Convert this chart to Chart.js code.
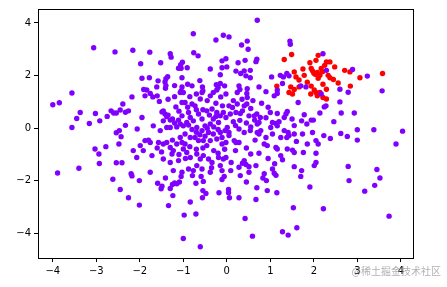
<!DOCTYPE html>
<html>
<head>
<meta charset="utf-8">
<script src="https://cdn.jsdelivr.net/npm/chart.js@4/dist/chart.umd.min.js"></script>
<style>
  html, body { margin: 0; padding: 0; background: #fff; }
  canvas { display: block; }
</style>
</head>
<body>
<canvas id="chart" width="447" height="287"></canvas>
<script>
// tick values
const xTicks = [-4, -3, -2, -1, 0, 1, 2, 3, 4];
const yTicks = [-4, -2, 0, 2, 4];

// red cluster points [x, y]
const redPts = [
    [1.32, 2.61], [1.49, 2.80], [1.55, 2.14], [1.59, 1.95], [1.66, 1.83], [1.78, 2.01],
    [1.91, 2.49], [1.94, 2.27], [2.05, 2.58], [2.00, 2.10], [2.03, 2.05], [1.97, 2.18],
    [2.08, 2.12], [1.15, 1.60], [1.47, 1.57], [1.55, 1.47], [1.66, 1.57], [1.94, 1.60],
    [2.01, 1.45], [2.29, 2.52], [2.37, 2.52], [2.25, 2.39], [2.10, 2.77], [2.17, 2.27],
    [2.48, 2.33], [2.71, 2.20], [2.83, 2.14], [2.33, 2.01], [2.37, 1.92], [2.14, 2.01],
    [3.06, 1.92], [3.58, 2.08], [2.56, 1.72], [2.21, 1.67], [2.84, 1.60], [2.29, 1.48],
    [1.43, 1.36], [1.51, 1.30], [1.93, 1.30], [2.05, 1.36], [2.08, 1.23], [2.14, 1.36],
    [2.21, 1.17], [2.29, 1.11], [2.10, 1.90], [2.20, 2.15], [1.85, 1.75], [2.45, 1.85],
    [1.75, 2.25]
];

// purple points [x, y]
const purplePts = [
    [-3.06, 3.06], [-2.57, 2.90], [-2.16, 2.96], [-3.56, 1.34],
    [-0.77, 3.59], [-0.25, 3.35], [-0.08, 3.53], [-1.77, 2.89], [-1.30, 2.83], [-1.28, 2.70],
    [-0.76, 2.87], [-0.66, 2.75], [-1.98, 2.45], [-1.52, 2.49], [-1.02, 2.51], [-1.06, 2.41],
    [-1.11, 2.28], [-1.05, 2.28], [-0.91, 2.30], [-0.11, 2.56], [-0.02, 2.64], [-0.38, 2.25],
    [-0.11, 2.30], [-0.15, 2.03], [-1.95, 1.90], [-1.78, 1.92], [-1.58, 1.80], [-1.40, 1.88],
    [-1.36, 1.96], [-1.42, 1.76], [-1.03, 1.92], [-0.62, 1.81], [-0.15, 1.70], [-0.05, 1.61],
    [-1.91, 1.47], [-1.84, 1.45], [-1.61, 1.57], [-1.40, 1.62], [-1.41, 1.52], [-1.20, 1.62],
    [-1.03, 1.57], [-0.90, 1.67], [-0.80, 1.61], [-0.56, 1.57], [-0.55, 1.42], [-1.05, 1.42],
    [-0.24, 1.65], [-0.20, 1.55], [-0.23, 1.45],
    [0.70, 4.10], [0.05, 3.47], [0.34, 3.16], [0.47, 3.31], [0.49, 3.00], [0.00, 2.33],
    [0.26, 2.49], [0.42, 2.58], [0.67, 2.53], [0.69, 2.62], [1.45, 3.31], [1.46, 3.19],
    [0.21, 2.17], [0.32, 2.08], [0.40, 2.18], [0.54, 2.20], [0.44, 1.99], [0.54, 1.92],
    [0.28, 1.61], [0.30, 1.47], [0.47, 1.50], [0.74, 1.57], [0.90, 1.39], [1.03, 1.95],
    [1.23, 2.01], [1.30, 1.95], [1.38, 2.08], [1.43, 1.99], [1.28, 1.70], [1.70, 1.61],
    [1.82, 1.57], [1.16, 1.45],
    [2.21, 2.83], [2.29, 2.20], [2.89, 2.23], [3.23, 1.98], [2.60, 1.48], [2.79, 1.37],
    [3.57, 1.42], [2.17, 1.30],
    [-4.00, 0.89], [-3.85, 0.97], [-3.37, 0.60], [-3.45, 0.37], [-3.56, 0.03], [-3.16, 0.18],
    [-3.02, 0.56], [-2.92, 0.28], [-2.75, 0.45], [-2.66, 0.66], [-2.60, 0.58], [-2.54, 0.58],
    [-2.45, 0.69], [-2.39, 0.92], [-2.33, 0.61], [-2.26, 0.66], [-2.18, 1.19], [-2.33, 0.11],
    [-2.47, -0.09], [-2.54, -0.17], [-2.43, -0.32], [-2.48, -0.60], [-2.78, -0.70], [-3.03, -0.79],
    [-2.94, -0.98], [-2.93, -1.34], [-2.54, -1.31], [-2.41, -1.31], [-3.40, -1.52], [-3.89, -1.70],
    [-2.20, -1.73],
    [-2.62, -1.94], [-2.45, -2.33], [-2.26, -2.64], [-2.18, -1.81],
    [-2.01, -1.99], [-2.01, -2.92], [-1.59, -2.09], [-1.49, -2.20], [-1.51, -2.30], [-1.41, -1.89],
    [-1.30, -2.29], [-1.25, -2.14], [-1.20, -2.08], [-1.15, -2.11], [-1.09, -2.04], [-1.24, -2.56],
    [-1.34, -2.94], [-1.05, -1.83], [-0.79, -1.80], [-0.59, -1.83], [-0.71, -2.09], [-0.54, -2.02],
    [-0.55, -2.37], [-0.48, -2.48], [-0.56, -2.64], [-0.11, -1.95], [-0.18, -2.45], [-0.84, -2.80],
    [-0.71, -3.26], [-0.98, -3.30], [-1.00, -4.19], [-0.61, -4.50],
    [-0.06, -1.83], [0.31, -1.80], [0.45, -2.04], [0.83, -1.89], [0.91, -1.99], [1.13, -1.79],
    [1.70, -1.83], [0.04, -2.33], [0.04, -2.45], [0.06, -2.64], [0.28, -2.64], [0.69, -2.26],
    [0.67, -2.71], [0.93, -2.37], [1.15, -2.45], [1.91, -2.23], [1.53, -3.02], [1.61, -3.78],
    [1.28, -3.93], [1.41, -4.06], [0.42, -3.43], [0.59, -4.10],
    [2.81, -1.99], [3.52, -1.89], [3.40, -2.17], [3.17, -2.39], [2.22, -3.06], [3.73, -3.34],
    [2.24, 0.81], [2.28, 0.85], [2.60, 1.00], [2.14, 0.58], [2.63, 0.58], [2.93, 0.58],
    [2.46, 0.25], [2.23, -0.28], [2.38, -0.39], [2.62, -0.20], [2.77, -0.31], [3.00, -0.06],
    [3.00, -0.45], [3.38, -0.06], [4.04, -0.11], [3.89, -0.60], [2.10, -0.60], [2.79, -1.45],
    [3.45, -1.57],
    [-0.02, 1.30], [0.24, 1.36], [0.46, 1.32], [1.09, 1.23], [1.16, 1.32], [0.05, 0.85],
    [0.13, 0.79], [0.24, 0.92], [0.40, 0.85], [0.46, 0.92], [0.47, 1.17], [0.31, 0.56],
    [0.21, 0.60], [0.08, 0.54], [-0.02, 0.41], [0.36, 0.66], [0.51, 0.47], [0.63, 0.47],
    [0.69, 0.54], [0.64, 0.31], [0.77, 0.41], [0.74, 0.22], [0.70, 0.16], [1.00, 0.60],
    [1.16, 0.56], [1.32, 0.41], [1.36, 0.54], [1.39, 0.64], [1.64, 0.98], [1.78, 0.51],
    [1.72, 0.28], [1.84, 0.16], [1.94, 0.31], [1.99, 0.31], [1.05, 0.22], [1.13, 0.18],
    [1.16, 0.09], [1.01, 0.03], [0.01, 0.03], [0.05, -0.16], [0.05, -0.28], [0.28, -0.03],
    [0.40, -0.16], [0.54, -0.09], [0.70, -0.16], [0.74, -0.22], [0.78, -0.09], [1.05, -0.22],
    [1.24, -0.35], [1.32, -0.09], [1.41, -0.16], [1.38, -0.35], [1.43, -0.28], [1.55, -0.22],
    [1.74, -0.22], [1.97, -0.16], [2.05, -0.47], [0.21, -0.54], [0.28, -0.54], [0.17, -0.47],
    [-0.02, -0.54], [0.86, -0.60], [0.93, -0.66], [1.13, -0.73], [1.16, -0.79], [1.39, -0.79],
    [1.51, -0.83], [1.55, -0.92], [1.76, -0.92], [2.05, -0.95], [-0.02, -1.11], [0.55, -0.98],
    [0.74, -0.95], [1.24, -1.04], [1.28, -1.20], [1.55, -1.46], [1.72, -1.61], [2.05, -1.30],
    [2.01, -1.42], [0.40, -1.23], [0.36, -1.33], [0.44, -1.38], [0.28, -1.48], [0.51, -1.46],
    [0.67, -1.42], [0.09, -1.61], [0.51, -1.67], [1.05, -1.55], [1.09, -1.71], [0.86, -1.73],
    [-1.88, 1.23], [-1.76, 1.32], [-1.70, 1.19], [-1.60, 1.23], [-1.55, 1.02], [-1.07, 1.36],
    [-1.00, 1.36], [-0.61, 1.11], [-0.57, 1.36], [-0.38, 1.23], [-0.31, 1.36], [-0.14, 1.19],
    [-1.95, 0.41], [-2.06, -0.03], [-1.69, 0.09], [-1.53, -0.09], [-1.46, 0.66], [-1.42, 0.54],
    [-1.38, 0.44], [-1.30, 0.31], [-1.46, 0.28], [-1.17, 0.81], [-1.03, 0.98], [-0.96, 0.98],
    [-0.80, 0.92], [-0.73, 0.85], [-1.03, 0.47], [-0.88, 0.60], [-0.84, 0.41], [-0.77, 0.28],
    [-1.11, 0.31], [-1.07, 0.16], [-1.00, 0.09], [-1.30, 0.03], [-1.38, 0.03], [-0.65, 0.54],
    [-0.57, 0.35], [-0.46, 0.66], [-0.34, 0.73], [-0.23, 0.60], [-0.15, 0.47], [-0.08, 0.60],
    [-0.31, 0.35], [-0.19, 0.22], [-0.38, 0.16], [-0.50, 0.09], [-0.69, 0.03], [-0.57, -0.09],
    [-0.42, -0.16], [-0.31, -0.22], [-0.15, -0.16], [-0.04, -0.09], [-0.11, -0.35], [-0.23, -0.41],
    [-0.96, -0.22], [-0.84, -0.35], [-1.07, -0.35], [-1.03, -0.54], [-0.96, -0.60], [-0.73, -0.35],
    [-0.65, -0.47], [-0.54, -0.47], [-0.38, -0.47], [-0.46, -0.66], [-0.11, -0.60], [-1.88, -0.47],
    [-1.80, -0.45], [-1.76, -0.54], [-1.57, -0.54], [-1.46, -0.60], [-1.38, -0.54], [-1.30, -0.73],
    [-1.23, -0.85], [-1.26, -0.98], [-1.99, -0.66], [-2.15, -0.85], [-1.92, -0.85], [-2.07, -1.11],
    [-1.72, -1.04], [-1.46, -1.17], [-1.30, -1.30], [-1.11, -1.23], [-1.00, -0.79], [-0.92, -0.92],
    [-0.84, -1.11], [-0.69, -0.98], [-0.61, -1.17], [-0.54, -1.04], [-0.42, -1.17], [-0.34, -1.30],
    [-0.19, -1.11], [-0.08, -1.17], [-0.15, -1.42], [-0.69, -1.42], [-0.57, -1.55], [-0.77, -1.61],
    [-0.88, -1.55], [-1.23, -1.61], [-1.03, -1.67], [-1.76, -1.67], [-0.38, -1.67], [-0.11, -1.61],
    // dense core, overlapping marks
    [-1.49, 0.62], [-1.35, 0.50], [-1.25, 0.35], [-1.20, 0.20], [-1.15, 0.05], [-0.92, 0.22],
    [-0.88, 0.12], [-0.80, -0.05], [-0.70, -0.15], [-0.62, -0.25], [-0.50, -0.30], [-0.45, 0.00],
    [-0.30, 0.05], [-0.20, -0.05], [-0.25, 0.45], [-0.40, 0.50], [-0.55, 0.70], [-0.70, 0.70],
    [-0.90, 0.80], [-1.10, 0.65], [-1.25, -0.45], [-1.15, -0.60], [-0.85, -0.70], [-0.70, -0.80],
    [-0.55, -0.75], [-0.30, -0.85], [-0.20, -0.95], [-0.05, -0.80], [-1.60, -0.75], [-1.50, -0.90],
    [-1.10, -1.00], [-0.95, -1.15], [-0.35, -1.50], [-1.35, 1.10], [-1.20, 1.20], [-0.85, 1.20],
    [-0.70, 1.30], [-0.45, 1.05], [-0.25, 0.95], [-0.10, 0.85],
    [0.15, 1.05], [0.35, 1.10], [0.60, 1.05], [0.80, 0.95], [0.95, 0.80], [0.55, 0.75],
    [0.15, 0.25], [0.30, 0.30], [0.45, 0.20], [0.20, 0.10], [0.55, 0.05], [0.90, 0.40],
    [1.20, 0.25], [1.50, 0.35], [1.55, 0.10], [0.90, -0.35], [0.65, -0.45], [0.45, -0.75],
    [0.20, -0.85], [0.10, -1.30], [0.95, -1.15], [1.10, -1.35], [1.60, -0.50], [1.85, -0.60]
];

const purple = "#8000ff";
const red = "#ff0000";

function toXY(pts) {
    return pts.map(p => ({ x: p[0], y: p[1] }));
}

function fmt(v) {
    return v < 0 ? "\u2212" + Math.abs(v) : String(v);
}

// 枠線(上・右も含む)と透かし文字
const framePlugin = {
    id: "frame",
    afterDraw(chart) {
        const { ctx, chartArea: a } = chart;
        ctx.save();
        ctx.strokeStyle = "#000";
        ctx.lineWidth = 1;
        ctx.strokeRect(a.left + 0.5, a.top + 0.5, a.right - a.left, a.bottom - a.top);
        ctx.fillStyle = "rgba(150,150,150,0.75)";
        ctx.font = "10px 'Noto Sans CJK SC'";
        ctx.textAlign = "right";
        ctx.textBaseline = "middle";
        ctx.fillText("@稀土掘金技术社区", 441, 271);
        ctx.restore();
    }
};

const axisCommon = {
    type: "linear",
    grid: { drawOnChartArea: false, drawTicks: true, tickLength: 4, tickColor: "#000" },
    border: { display: true, color: "#000", width: 1 },
    ticks: {
        color: "#000",
        font: { family: "DejaVu Sans", size: 10 },
        padding: 3,
        callback: v => fmt(v)
    }
};

new Chart(document.getElementById("chart").getContext("2d"), {
    type: "scatter",
    data: {
        datasets: [
            { data: toXY(purplePts), backgroundColor: purple, pointRadius: 2.7, borderWidth: 0 },
            { data: toXY(redPts), backgroundColor: red, pointRadius: 2.7, borderWidth: 0 }
        ]
    },
    options: {
        responsive: false,
        animation: false,
        layout: { padding: { left: 0, top: 8, right: 34, bottom: 9 } },
        plugins: { legend: { display: false }, tooltip: { enabled: false } },
        scales: {
            x: {
                ...axisCommon,
                min: -4.34,
                max: 4.28,
                afterBuildTicks: s => { s.ticks = xTicks.map(v => ({ value: v })); },
                afterFit: s => { s.height = 20; }
            },
            y: {
                ...axisCommon,
                min: -4.93,
                max: 4.53,
                afterBuildTicks: s => { s.ticks = yTicks.map(v => ({ value: v })); },
                afterFit: s => { s.width = 38; }
            }
        }
    },
    plugins: [framePlugin]
});
</script>
</body>
</html>
